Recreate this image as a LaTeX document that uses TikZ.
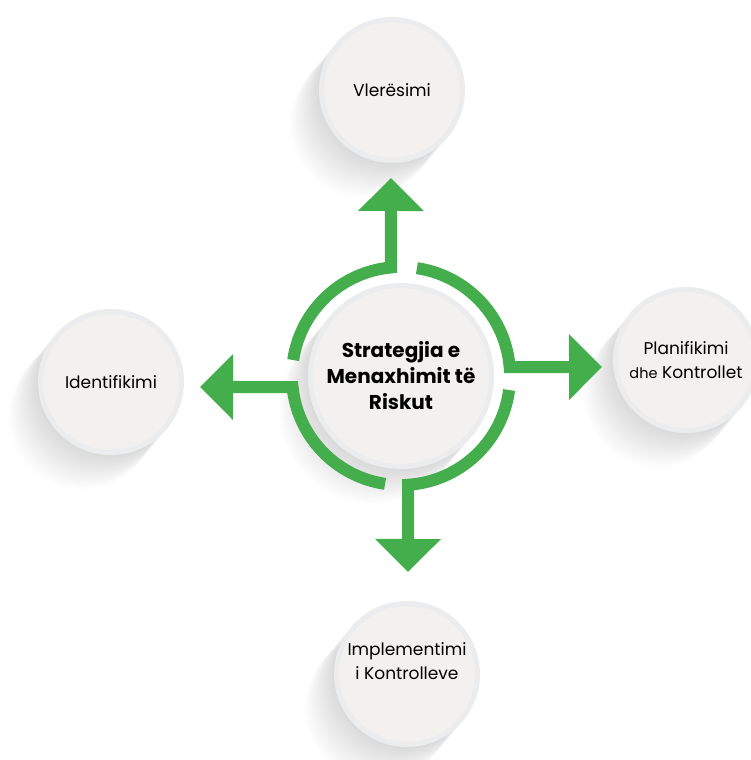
\documentclass[tikz,border=0pt]{standalone}
\usepackage{fontspec}
\setmainfont{Poppins}
\usetikzlibrary{arrows.meta}
\usetikzlibrary{backgrounds}
\usetikzlibrary{positioning}
\definecolor{mgreen}{RGB}{68,173,76}
\definecolor{bubblefill}{RGB}{242,241,240}
\definecolor{bubblerim}{RGB}{235,236,237}

\tikzset{
  bubble/.style={circle, draw=bubblerim, line width=5pt, fill=bubblefill,
    minimum size=141pt, inner sep=0pt, align=center,
    font=\fontsize{17}{24}\selectfont},
  hub/.style={bubble, minimum size=181pt,
    font=\bfseries\fontsize{20}{26}\selectfont},
  ring/.style={mgreen, line width=12pt, line join=miter},
  spoke/.style={ring, -{Triangle[length=33pt, width=64pt]}},
}

\begin{document}
\begin{tikzpicture}[x=1pt, y=1pt]
      \useasboundingbox (0, 0) rectangle (750, 760);

      \node [hub] (strat) at (401, 384) {Strategjia e\\ Menaxhimit të\\ Riskut};
      \node [bubble] (vler) at (392, 670) {Vlerësimi};
      \node [bubble] (ident) at (111, 378) {Identifikimi};
      \node [bubble] (plan) at (686, 400)
        {Planifikimi\\ {\fontsize{14.5}{24}\selectfont dhe} Kontrollet};
      \node [bubble] (impl) at (407, 86) {};
      \node [font=\fontsize{17}{24}\selectfont, align=center] (impltext)
        at ([yshift=13pt]impl.center) {Implementimi\\ i Kontrolleve};

      % soft shadows behind the bubbles
      \begin{scope}[on background layer]
        \fill [white] (0, 0) rectangle (750, 760);
        \foreach \n/\r in {strat/93, vler/73, ident/73, plan/73, impl/73}
          \foreach \i in {1,...,18}
            \fill [black, opacity=0.008] ([shift={(-1.6*\i, -1.9*\i)}]\n.center) circle (\r);
      \end{scope}

      \coordinate (vtip) at (391, 582);
      \coordinate (ptip) at (602, 393);
      \coordinate (mtip) at (408, 188);
      \coordinate (dtip) at (200, 373);

      \draw [spoke] ([shift={(171.6:109)}]strat.center)
        arc [start angle=171.6, end angle=95.3, radius=109] -- (vtip);
      \draw [spoke] ([shift={(81.6:109)}]strat.center)
        arc [start angle=81.6, end angle=4.7, radius=109] -- (ptip);
      \draw [spoke] ([shift={(-7.4:109)}]strat.center)
        arc [start angle=-7.4, end angle=-86.3, radius=109] -- (mtip);
      \draw [spoke] ([shift={(-98.4:109)}]strat.center)
        arc [start angle=-98.4, end angle=-174.2, radius=109] -- (dtip);
    \end{tikzpicture}
\end{document}
